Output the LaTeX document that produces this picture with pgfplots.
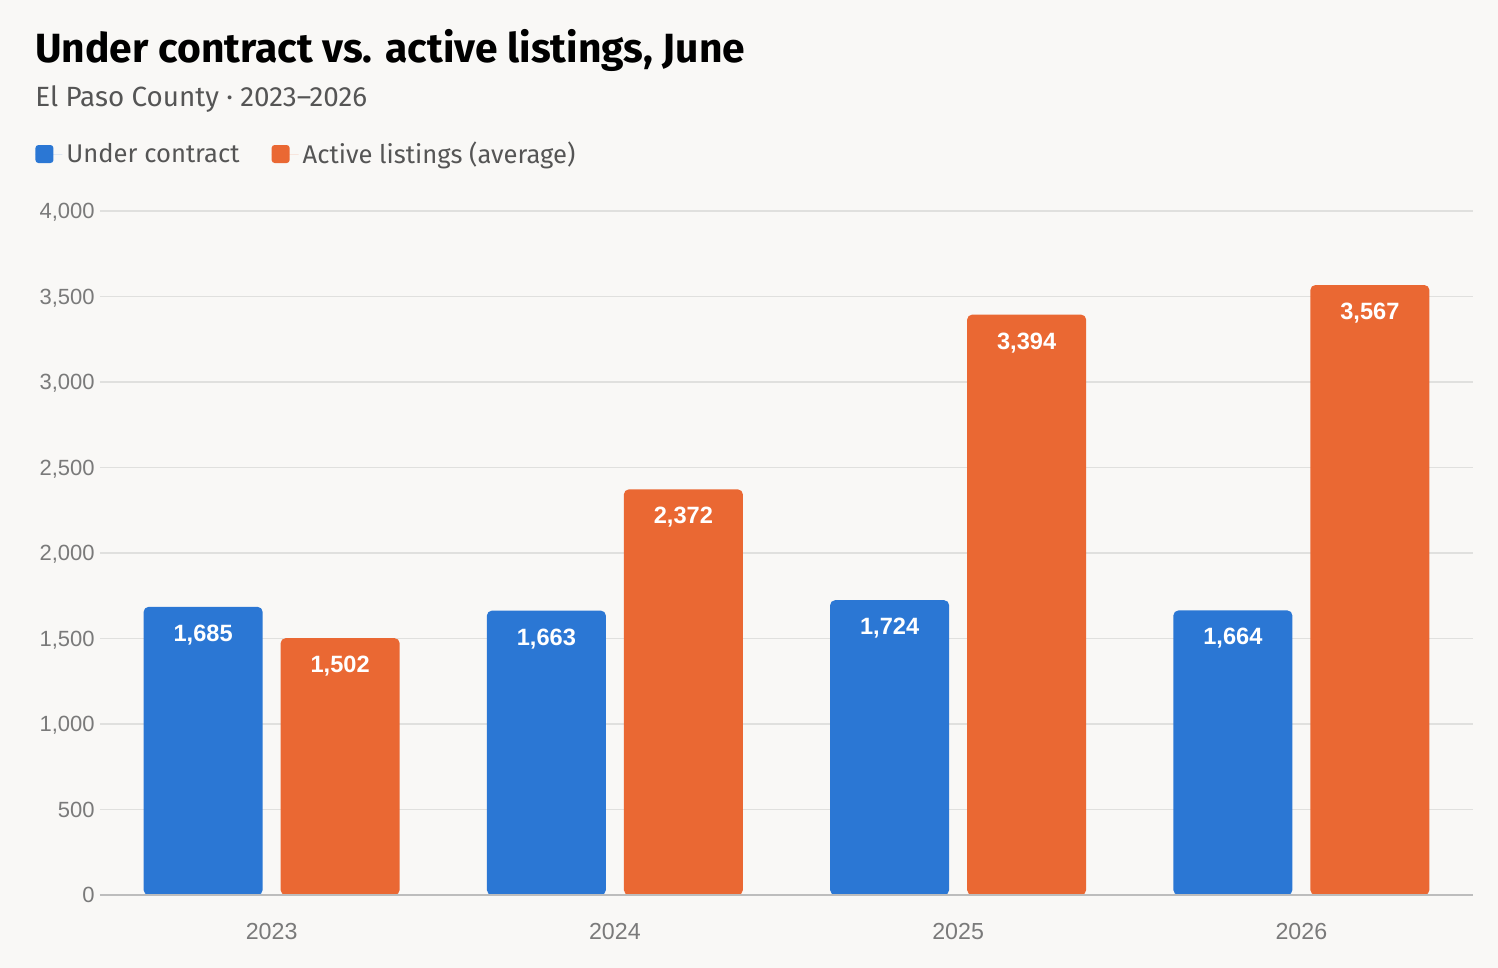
\documentclass[border=0pt]{standalone}
\usepackage{fontspec}
\setmainfont{Liberation Sans}
\newfontfamily\firafont{Fira Sans}
\usepackage{pgfplots}
\pgfplotsset{compat=1.18}
\definecolor{bgc}{HTML}{F9F8F6}
\definecolor{cblue}{HTML}{2B77D4}
\definecolor{corange}{HTML}{EA6833}
\definecolor{gridc}{HTML}{E0E0DE}
\definecolor{basec}{HTML}{BDBDBD}
\definecolor{tickc}{HTML}{7A7A7A}
\definecolor{subc}{HTML}{555555}
\pgfplotstableread{
x uc al
0 1685 1502
1 1663 2372
2 1724 3394
3 1664 3567
}\datatable
\begin{document}
\begin{tikzpicture}
\fill[bgc] (0,0) rectangle (749pt,484pt);
\node[anchor=base west, inner sep=0pt, font=\firafont\bfseries\fontsize{20.4}{24}\selectfont] at (17.5pt,452.5pt) {Under contract vs. active listings, June};
\node[anchor=base west, inner sep=0pt, text=subc, font=\firafont\fontsize{13.9}{16}\selectfont] at (17.5pt,430.5pt) {El Paso County · 2023–2026};
\begin{axis}[
  at={(50pt,36.5pt)}, anchor=south west,
  width=686.5pt, height=342pt, scale only axis,
  xmin=-0.5, xmax=3.5, ymin=0, ymax=4000,
  y coord trafo/.code={\pgfmathparse{#1+40}},
  y coord inv trafo/.code={\pgfmathparse{#1-40}},
  ytick={500,1000,...,4000},
  extra y ticks={0},
  extra y tick style={grid style={basec, line width=0.9pt}},
  xtick={0,1,2,3}, xticklabels={2023,2024,2025,2026},
  axis line style={draw=none}, major tick length=0pt,
  ymajorgrids, grid style={gridc, line width=0.8pt},
  /pgf/number format/.cd, 1000 sep={,}, assume math mode=true, /pgfplots/.cd,
  yticklabel style={anchor=east, inner sep=0pt, xshift=-2.5pt, text depth=0pt, text=tickc, font=\fontsize{11}{13}\selectfont},
  xticklabel style={anchor=center, inner sep=0pt, yshift=-18.5pt, text=tickc, font=\fontsize{11.6}{14}\selectfont},
  ybar, bar width=59.5pt,
  point meta=explicit,
  nodes near coords,
  every node near coord/.append style={anchor=center, yshift=-14pt, text=white, font=\bfseries\fontsize{11.8}{14}\selectfont},
  legend columns=2,
  legend style={at={(axis description cs:-0.0473,1.0833)}, anchor=west, draw=none, fill=none, inner sep=0pt,
    font=\firafont\fontsize{12.8}{16}\selectfont, text=subc,
    /tikz/every even column/.append style={column sep=14pt}},
  legend image code/.code={\fill[#1, rounded corners=1.5pt] (0pt,-4.5pt) rectangle (9pt,4.5pt); \path (0pt,0pt) -- (13.5pt,0pt);},
]
\addplot[fill=cblue, draw=none, bar shift=-34.25pt, rounded corners=2.5pt] table[x=x, y=uc, meta=uc] {\datatable};
\addplot[fill=corange, draw=none, bar shift=34.25pt, rounded corners=2.5pt] table[x=x, y=al, meta=al] {\datatable};
\legend{Under contract, Active listings (average)}
\draw[basec, line width=0.9pt] (axis cs:-0.5,0) -- (axis cs:3.5,0);
\end{axis}
\end{tikzpicture}
\end{document}
